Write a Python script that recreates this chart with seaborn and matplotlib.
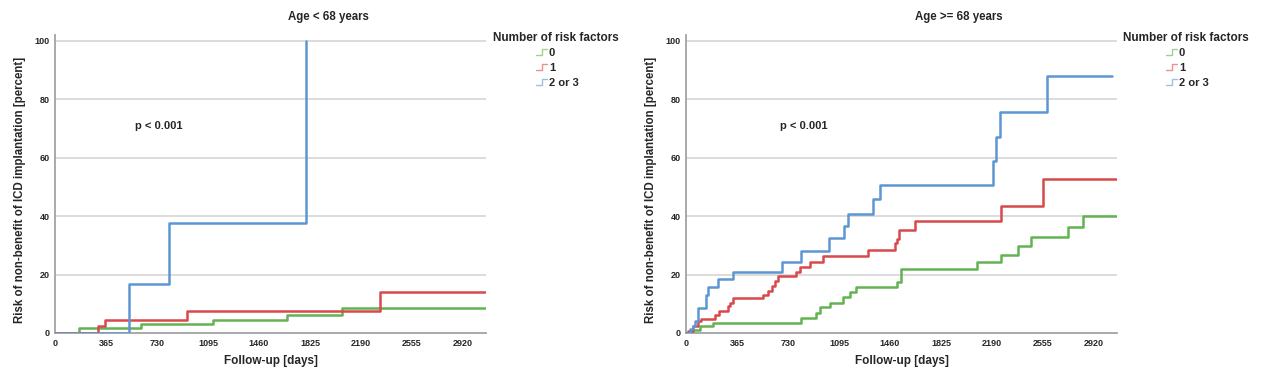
import matplotlib
matplotlib.use("Agg")
import matplotlib.pyplot as plt
import pandas as pd
import seaborn as sns
from matplotlib import font_manager
from matplotlib.lines import Line2D
from matplotlib.legend_handler import HandlerBase

# groups / colours
groups = ["0", "1", "2 or 3"]
palette = {"0": "#62b352", "1": "#d9494b", "2 or 3": "#5d97d3"}
xticks = [0, 365, 730, 1095, 1460, 1825, 2190, 2555, 2920]
yticks = [0, 20, 40, 60, 80, 100]
titles = ["Age < 68 years", "Age >= 68 years"]

# cumulative risk curves, age < 68
young_t_0 = [0, 172, 616, 1129, 1658, 2052, 3080]
young_v_0 = [0, 1.7, 3.1, 4.5, 6.3, 8.6, 8.6]
young_t_1 = [0, 310, 358, 943, 2326, 3080]
young_v_1 = [0, 2.3, 4.5, 7.4, 14.0, 14.0]
young_t_23 = [0, 527, 816, 1797]
young_v_23 = [0, 16.7, 37.5, 100]

# cumulative risk curves, age >= 68
old_t_0 = [0, 41, 100, 196, 822, 932, 956, 1032, 1123, 1176, 1219, 1510, 1541,
           2084, 2256, 2378, 2466, 2736, 2841, 3087]
old_v_0 = [0, 0.9, 2.3, 3.5, 5.3, 6.9, 8.8, 10.4, 12.3, 14.0, 15.8, 17.6, 21.8,
           24.3, 26.8, 29.7, 32.7, 36.4, 39.9, 39.9]
old_t_1 = [0, 17, 53, 88, 108, 208, 239, 303, 315, 335, 550, 590, 614, 638, 662,
           789, 817, 889, 980, 1302, 1493, 1510, 1522, 1642, 2256, 2557, 3087]
old_v_1 = [0, 0.6, 2.3, 4.0, 4.8, 6.2, 7.4, 9.1, 10.3, 11.9, 13.1, 14.5, 16.0,
           17.7, 19.6, 20.9, 22.5, 24.3, 26.2, 28.5, 30.8, 32.2, 35.3, 38.2,
           43.3, 52.7, 52.7]
old_t_23 = [0, 29, 48, 65, 88, 143, 155, 232, 335, 686, 822, 1025, 1128, 1159,
            1336, 1386, 2198, 2220, 2251, 2585, 3051]
old_v_23 = [0, 1.2, 2.5, 4.2, 8.5, 13.1, 15.6, 18.4, 20.9, 24.3, 28.2, 32.4,
            36.5, 40.9, 45.7, 50.7, 58.9, 67.1, 75.5, 87.8, 87.8]

curves = {
    0: [(young_t_0, young_v_0), (young_t_1, young_v_1), (young_t_23, young_v_23)],
    1: [(old_t_0, old_v_0), (old_t_1, old_v_1), (old_t_23, old_v_23)],
}

rows = []
for panel, lst in curves.items():
    for g, (ts, vs) in zip(groups, lst):
        for t, v in zip(ts, vs):
            rows.append({"panel": panel, "group": g, "days": t, "risk": v})
df = pd.DataFrame(rows)

sns.set_style("white")
names = {f.name for f in font_manager.fontManager.ttflist}
narrow = "Liberation Sans Narrow" if "Liberation Sans Narrow" in names else "Liberation Sans"
plt.rcParams["font.family"] = ["Liberation Sans", "DejaVu Sans"]


class HandlerStep(HandlerBase):
    # small step icon like the SPSS legend
    def create_artists(self, legend, orig_handle, xdescent, ydescent, width, height, fontsize, trans):
        x0, x1 = -xdescent, -xdescent + width
        y0, y1 = -ydescent + height * 0.1, -ydescent + height * 0.9
        xm = x0 + width * 0.55
        ln = Line2D([x0, xm, xm, x1], [y0, y0, y1, y1], color=orig_handle.get_color(),
                    lw=1.0, alpha=0.6, transform=trans)
        return [ln]


fig = plt.figure(figsize=(12.8, 3.86), dpi=100)
lefts = [55 / 1280, 686 / 1280]
title_x = [328 / 1280, 959 / 1280]
legend_x = [493 / 1280, 1123 / 1280]

for i in range(2):
    ax = fig.add_axes([lefts[i], 53 / 386, 431 / 1280, 298 / 386])
    sns.lineplot(data=df[df.panel == i], x="days", y="risk", hue="group", hue_order=groups,
                 palette=palette, estimator=None, sort=False, drawstyle="steps-post",
                 linewidth=1.8, legend=False, ax=ax, zorder=3)
    ax.set_xlim(0, 3085)
    ax.set_ylim(0, 102)
    ax.set_xticks(xticks)
    ax.set_yticks(yticks)
    for y in yticks[1:]:
        ax.axhline(y, color="#d2d2d2", lw=1.1, zorder=1)
    for s in ["top", "right"]:
        ax.spines[s].set_visible(False)
    for s in ["left", "bottom"]:
        ax.spines[s].set_color("#a3a3a3")
        ax.spines[s].set_linewidth(1.3)
    ax.tick_params(length=0, pad=4)
    for lab in ax.get_xticklabels() + ax.get_yticklabels():
        lab.set_fontfamily(narrow)
        lab.set_fontsize(6.5)
        lab.set_fontweight("bold")
    ax.set_xlabel("Follow-up [days]", fontsize=8.5, fontweight="bold")
    ax.set_ylabel("Risk of non-benefit of ICD implantation [percent]", fontsize=8.3,
                  fontweight="bold")
    ax.xaxis.set_label_coords(0.5, -0.075)
    ax.yaxis.set_label_coords(-0.068, 0.48)
    ax.text(575 if i == 0 else 674, 71, "p < 0.001", fontsize=8, fontweight="bold",
            ha="left", va="center")

    fig.text(title_x[i], 1 - 17 / 386, titles[i], fontsize=8.3, fontweight="bold",
             ha="center", va="center")
    fig.text(legend_x[i], 1 - 38 / 386, "Number of risk factors", fontsize=8.5,
             fontweight="bold", ha="left", va="center")
    handles = [Line2D([], [], color=palette[g]) for g in groups]
    fig.legend(handles, groups, loc="upper left",
               bbox_to_anchor=(legend_x[i] + 43 / 1280, 1 - 48 / 386),
               frameon=False, borderpad=0, borderaxespad=0, handlelength=1.0,
               handletextpad=0.15, labelspacing=0.45,
               handler_map={Line2D: HandlerStep()},
               prop={"family": narrow, "size": 8, "weight": "bold"})

fig.savefig("out.png", dpi=100)
